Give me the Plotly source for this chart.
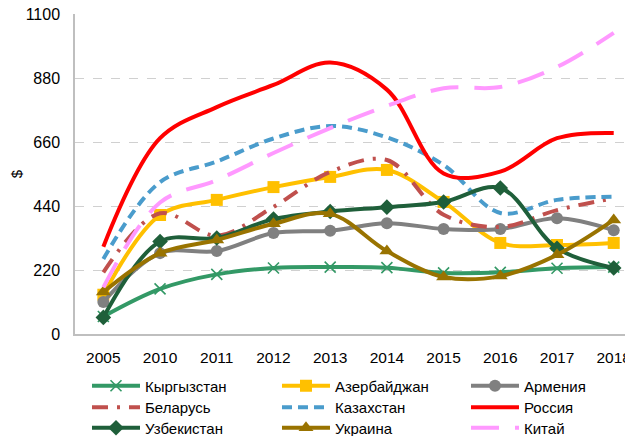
import plotly.graph_objects as go

years = ["2005", "2010", "2011", "2012", "2013", "2014", "2015", "2016", "2017", "2018"]

kyrgyzstan = [60, 155, 205, 227, 230, 228, 210, 212, 226, 230]
azerbaijan = [135, 409, 461, 505, 540, 564, 454, 313, 306, 313]
armenia = [110, 278, 285, 347, 355, 381, 361, 361, 398, 357]
belarus = [212, 415, 338, 437, 557, 598, 410, 368, 426, 467]
kazakhstan = [258, 522, 593, 672, 715, 676, 581, 416, 461, 472]
russia = [300, 673, 780, 856, 933, 840, 552, 558, 673, 691]
uzbekistan = [57, 318, 330, 395, 421, 436, 454, 502, 295, 227]
ukraine = [144, 278, 323, 379, 413, 285, 196, 199, 272, 392]
china = [160, 452, 529, 622, 708, 784, 845, 849, 918, 1035]

y_ticks = [0, 220, 440, 660, 880, 1100]

FONT = "Liberation Sans, Arial, sans-serif"

# (name, values, colour, dash, marker)
series = [
    ("Кыргызстан", kyrgyzstan, "#339966", "solid", dict(symbol="x-thin", size=11, line=dict(width=1.6, color="#339966"))),
    ("Азербайджан", azerbaijan, "#FFC000", "solid", dict(symbol="square", size=12)),
    ("Армения", armenia, "#808080", "solid", dict(symbol="circle", size=12)),
    ("Беларусь", belarus, "#C0504D", "16px,9px,3px,9px", None),
    ("Казахстан", kazakhstan, "#4A9CCC", "10px,6px", None),
    ("Россия", russia, "#FF0000", "solid", None),
    ("Узбекистан", uzbekistan, "#1F5F3A", "solid", dict(symbol="diamond", size=12)),
    ("Украина", ukraine, "#997300", "solid", dict(symbol="triangle-up", size=13)),
    ("Китай", china, "#FF99FF", "28px,16px", None),
]

# legend grid: 3 columns x 3 rows (paper coordinates)
col_x = [0.0215, 0.362, 0.7007]
row_y = [-0.1109, -0.1781, -0.2422]

fig = go.Figure()
legends = {}
for i, (name, vals, color, dash, marker) in enumerate(series):
    leg_name = "legend" if i == 0 else f"legend{i + 1}"
    kw = {}
    if marker is not None:
        m = dict(color=color)
        m.update(marker)
        kw["marker"] = m
        mode = "lines+markers"
    else:
        mode = "lines"
    fig.add_trace(go.Scatter(
        x=years, y=vals, name=name, mode=mode, legend=leg_name,
        line=dict(color=color, width=4, dash=dash, shape="spline", smoothing=1.0),
        cliponaxis=False,
        **kw,
    ))
    legends[leg_name] = dict(
        orientation="v", yanchor="top", xanchor="left",
        x=col_x[i % 3], y=row_y[i // 3],
        itemwidth=48,
        font=dict(family=FONT, size=15, color="#000000"),
        bgcolor="rgba(0,0,0,0)", borderwidth=0,
        itemclick=False, itemdoubleclick=False,
    )

fig.update_layout(
    width=625, height=428,
    margin=dict(l=67, r=0, t=6, b=102, autoexpand=False),
    paper_bgcolor="white", plot_bgcolor="white",
    font=dict(family=FONT, size=16, color="#000000"),
    showlegend=True,
    **legends,
)

fig.update_xaxes(
    type="category",
    range=[-0.5, 9.34],
    showgrid=False,
    showline=True, linecolor="#BFBFBF", linewidth=1.5,
    ticks="", ticklabelstandoff=9, ticklabeloverflow="allow",
    tickfont=dict(family=FONT, size=15.5, color="#000000"),
    zeroline=False,
)

fig.update_yaxes(
    range=[0, 1100],
    tickvals=y_ticks,
    ticktext=[str(v) for v in y_ticks],
    showgrid=True, gridcolor="#D0D0D0", griddash="dash", gridwidth=1,
    showline=True, linecolor="#BFBFBF", linewidth=1.5,
    ticks="", ticklabelstandoff=10, ticklabeloverflow="allow",
    tickfont=dict(family=FONT, size=16, color="#000000"),
    zeroline=False,
    title=dict(text="$", font=dict(family=FONT, size=15, color="#000000"), standoff=0),
)

fig.write_html("out.html")
